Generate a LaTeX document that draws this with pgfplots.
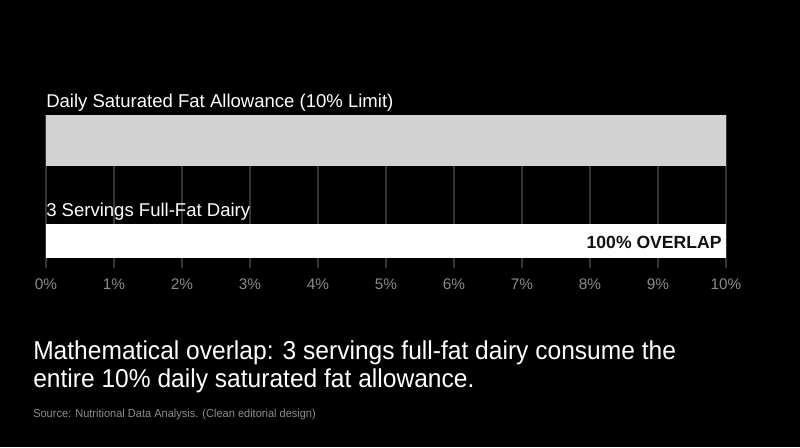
\documentclass[border=0pt]{standalone}
\usepackage{pgfplots}
\pgfplotsset{compat=1.18}
\usepackage{fontspec}
\setmainfont{Liberation Sans}
\newfontfamily\capfont[FakeStretch=0.95]{Liberation Sans}
\definecolor{bg}{HTML}{000000}
\definecolor{barlight}{HTML}{D3D3D3}
\definecolor{gridgray}{HTML}{353535}
\definecolor{tickgray}{HTML}{8A8A8A}
\definecolor{srcgray}{HTML}{8C8C8C}

\begin{document}
\begin{tikzpicture}
% whole canvas, 800x447 px at 0.75pt per px
\fill[bg] (0pt,0pt) rectangle (600pt,-335.25pt);

\begin{axis}[
  at={(34.5pt,-201pt)}, anchor=south west,
  scale only axis,
  width=510pt, height=114.75pt,
  xmin=0, xmax=10,
  ymin=115, ymax=268,
  y dir=reverse,
  axis line style={draw=none},
  major tick length=0pt,
  ytick=\empty,
  xtick={0,1,...,10},
  xmajorgrids,
  grid style={color=gridgray, line width=1.1pt},
  xticklabel={\pgfmathprintnumber{\tick}\%},
  xticklabel style={text=tickgray, font=\fontsize{11.5pt}{13pt}\selectfont, yshift=-4.5pt},
  /pgf/number format/assume math mode=true,
  clip=false,
]
  \addplot[xbar, bar width=51, bar shift=0pt, fill=barlight, draw=none]
    coordinates {(10,140.5)};
  \addplot[xbar, bar width=34, bar shift=0pt, fill=white, draw=none]
    coordinates {(10,241)};
  \node[anchor=base east, inner sep=0pt, text=black!93, font=\bfseries\fontsize{13.2pt}{15pt}\selectfont]
    at (axis cs:9.94,248) {100\% OVERLAP};
\end{axis}

\begin{scope}[x=0.75pt, y=-0.75pt]
  \node[anchor=base west, inner sep=0pt, text=white, font=\fontsize{13.9pt}{16pt}\selectfont]
    at (46,107.5) {Daily Saturated Fat Allowance (10\% Limit)};
  \node[anchor=base west, inner sep=0pt, text=white, font=\fontsize{13.9pt}{16pt}\selectfont]
    at (46,216.5) {3 Servings Full-Fat Dairy};
  \node[anchor=base west, inner sep=0pt, text=white, font=\capfont\fontsize{19.4pt}{22pt}\selectfont]
    at (33,359) {Mathematical overlap: 3 servings full-fat dairy consume the};
  \node[anchor=base west, inner sep=0pt, text=white, font=\capfont\fontsize{19.4pt}{22pt}\selectfont]
    at (33,387) {entire 10\% daily saturated fat allowance.};
  \node[anchor=base west, inner sep=0pt, text=srcgray, font=\capfont\fontsize{8.7pt}{10pt}\selectfont]
    at (33,417) {Source: Nutritional Data Analysis. (Clean editorial design)};
\end{scope}
\end{tikzpicture}
\end{document}
